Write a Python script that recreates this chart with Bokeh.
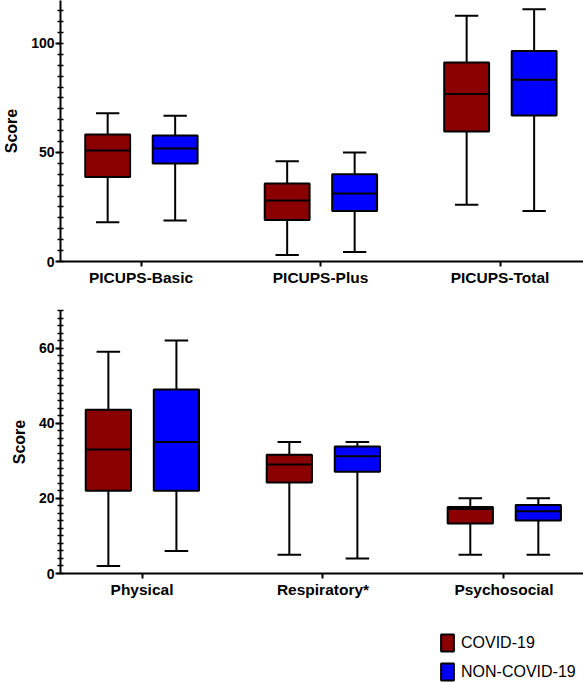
from bokeh.plotting import figure
from bokeh.models import ColumnDataSource, FixedTicker, Range1d, Legend, LegendItem
from bokeh.layouts import column
from bokeh.embed import file_html
from bokeh.resources import INLINE

# ---------------- data ----------------
groups = ["COVID-19", "NON-COVID-19"]
group_colors = ["#8B0000", "#0000FF"]

top_categories = ["PICUPS-Basic", "PICUPS-Plus", "PICUPS-Total"]
top_covid_min = [18.0, 3.0, 26.0]
top_covid_q1 = [38.7, 19.0, 59.6]
top_covid_med = [50.9, 28.0, 76.8]
top_covid_q3 = [58.3, 35.8, 91.3]
top_covid_max = [68.0, 46.0, 112.7]
top_non_min = [18.8, 4.3, 23.2]
top_non_q1 = [45.0, 23.2, 67.0]
top_non_med = [51.8, 31.2, 83.3]
top_non_q3 = [57.8, 40.0, 96.5]
top_non_max = [66.8, 50.0, 115.7]
top_major_ticks = [0, 50, 100]

bot_categories = ["Physical", "Respiratory*", "Psychosocial"]
bot_covid_min = [2.0, 5.0, 5.0]
bot_covid_q1 = [22.0, 24.2, 13.3]
bot_covid_med = [33.0, 29.0, 17.2]
bot_covid_q3 = [43.6, 31.6, 17.7]
bot_covid_max = [59.0, 35.0, 20.0]
bot_non_min = [6.0, 4.0, 5.0]
bot_non_q1 = [22.0, 27.1, 14.1]
bot_non_med = [35.0, 31.2, 16.6]
bot_non_q3 = [49.0, 33.8, 18.2]
bot_non_max = [62.0, 35.0, 20.0]
bot_major_ticks = [0, 20, 40, 60]

FONT = "Liberation Sans"
BOX_W = 0.25
CAP_W = 0.13
DODGE = [-0.186, 0.19]
W = 583


def box_source(pos, mn, q1, md, q3, mx):
    return ColumnDataSource(dict(
        x=pos, mn=mn, q1=q1, md=md, q3=q3, mx=mx,
        l=[v - BOX_W / 2 for v in pos], r=[v + BOX_W / 2 for v in pos],
        cl=[v - CAP_W / 2 for v in pos], cr=[v + CAP_W / 2 for v in pos],
    ))


def draw_boxes(p, src, color):
    kw = dict(source=src, line_color="black", line_width=2)
    p.segment(x0="x", y0="q3", x1="x", y1="mx", **kw)
    p.segment(x0="x", y0="q1", x1="x", y1="mn", **kw)
    p.segment(x0="cl", y0="mx", x1="cr", y1="mx", **kw)
    p.segment(x0="cl", y0="mn", x1="cr", y1="mn", **kw)
    r = p.vbar(x="x", width=BOX_W, top="q3", bottom="q1", source=src,
               fill_color=color, line_color="black", line_width=2)
    p.segment(x0="l", y0="md", x1="r", y1="md", **kw)
    return r


def make_panel(categories, series, x_rng, y_rng, major, minor_step, height,
               border_top, border_bottom, label_standoff):
    p = figure(width=W, height=height, output_backend="svg", toolbar_location=None,
               x_range=Range1d(*x_rng), y_range=Range1d(*y_rng),
               min_border_left=57, min_border_right=0,
               min_border_top=border_top, min_border_bottom=border_bottom)
    p.outline_line_color = None
    p.grid.visible = False
    p.background_fill_color = "white"
    p.border_fill_color = "white"

    sources = []
    for gi, s in enumerate(series):
        pos = [i + 1 + DODGE[gi] for i in range(len(categories))]
        src = box_source(pos, *s)
        draw_boxes(p, src, group_colors[gi])
        sources.append(src)

    # x axis
    xa = p.xaxis[0]
    xa.ticker = FixedTicker(ticks=[i + 1 for i in range(len(categories))])
    xa.major_label_overrides = {i + 1: c for i, c in enumerate(categories)}
    xa.axis_line_width = 2
    xa.major_tick_line_width = 2
    xa.major_tick_in = 0
    xa.major_tick_out = 5
    xa.minor_tick_line_color = None
    xa.major_label_standoff = 2
    xa.major_label_text_font = FONT
    xa.major_label_text_font_style = "bold"
    xa.major_label_text_font_size = "15.5px"
    xa.major_label_text_color = "black"

    # y axis
    ya = p.yaxis[0]
    minor = [minor_step * k for k in range(int(y_rng[1] / minor_step) + 1)]
    ya.ticker = FixedTicker(ticks=major, minor_ticks=minor)
    ya.axis_line_width = 2
    ya.major_tick_line_width = 2
    ya.major_tick_in = 0
    ya.major_tick_out = 5
    ya.minor_tick_line_width = 1.5
    ya.minor_tick_in = 3
    ya.minor_tick_out = 3
    ya.major_label_standoff = 1
    ya.major_label_text_font = FONT
    ya.major_label_text_font_style = "bold"
    ya.major_label_text_font_size = "14px"
    ya.major_label_text_color = "black"
    ya.axis_label = "Score"
    ya.axis_label_text_font = FONT
    ya.axis_label_text_font_style = "bold"
    ya.axis_label_text_font_size = "16px"
    ya.axis_label_text_color = "black"
    ya.axis_label_standoff = label_standoff
    return p, sources


top_series = [
    (top_covid_min, top_covid_q1, top_covid_med, top_covid_q3, top_covid_max),
    (top_non_min, top_non_q1, top_non_med, top_non_q3, top_non_max),
]
bot_series = [
    (bot_covid_min, bot_covid_q1, bot_covid_med, bot_covid_q3, bot_covid_max),
    (bot_non_min, bot_non_q1, bot_non_med, bot_non_q3, bot_non_max),
]

p1, _ = make_panel(top_categories, top_series, (0.5512, 3.465), (0, 119.7),
                   top_major_ticks, 5, 300, 0, 39, 8)
p2, bot_sources = make_panel(bot_categories, bot_series, (0.5495, 3.4396), (0, 70),
                             bot_major_ticks, 2, 310, 10, 37, 8)

# legend panel (hidden copies of the box renderers supply the legend swatches)
p3 = figure(width=W, height=72, output_backend="svg", toolbar_location=None,
            x_axis_type=None, y_axis_type=None,
            x_range=Range1d(0, 1), y_range=Range1d(0, 1),
            min_border=0, min_border_left=0, min_border_right=0,
            min_border_top=0, min_border_bottom=0)
p3.outline_line_color = None
p3.grid.visible = False
items = []
for g, c, src in zip(groups, group_colors, bot_sources):
    r = p3.vbar(x="x", top="q3", bottom="q1", width=BOX_W, source=src,
                fill_color=c, line_color="black", line_width=2, visible=False)
    items.append(LegendItem(label=g, renderers=[r], index=0))
legend = Legend(
    items=items, location=(379, 0),
    glyph_width=16, glyph_height=21, label_standoff=6, spacing=8,
    padding=0, margin=0, border_line_color=None, background_fill_alpha=0,
    label_text_font=FONT, label_text_font_size="16px", label_text_color="black",
)
p3.add_layout(legend)

layout = column(p1, p2, p3, spacing=0)
open("out.html", "w").write(file_html(layout, INLINE))
